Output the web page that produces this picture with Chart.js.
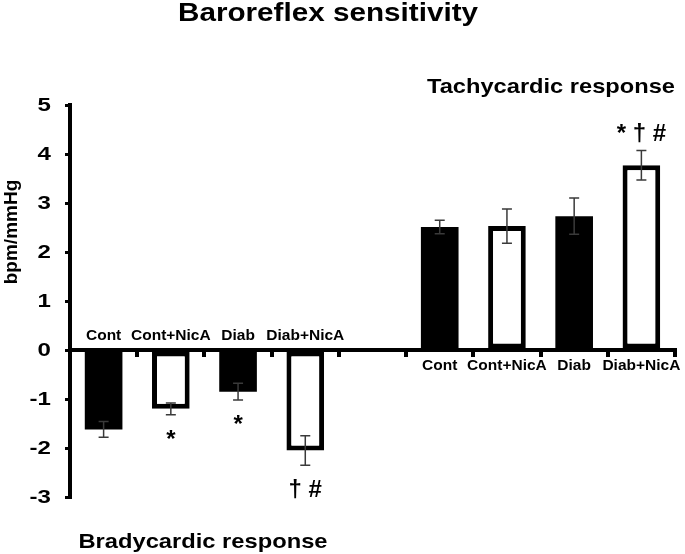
<!DOCTYPE html>
<html>
<head>
<meta charset="utf-8">
<script src="https://cdn.jsdelivr.net/npm/chart.js@4.4.1/dist/chart.umd.min.js"></script>
<style>
  html, body { margin: 0; padding: 0; background: #fff; }
  #wrap { width: 685px; height: 554px; }
</style>
</head>
<body>
<div id="wrap"><canvas id="baroreflex"></canvas></div>
<script>
// Baroreflex sensitivity, bpm/mmHg (mean +/- SEM)
const treatments = ['Cont', 'Cont+NicA', 'Diab', 'Diab+NicA'];
const filled = [true, false, true, false];

const bradyValues = [-1.62, -1.2, -0.85, -2.05];
const bradyErrors = [0.16, 0.12, 0.17, 0.3];
const bradyMarks = ['', '*', '*', '† #'];

const tachyValues = [2.51, 2.53, 2.73, 3.77];
const tachyErrors = [0.14, 0.35, 0.37, 0.3];
const tachyMarks = ['', '', '', '* † #'];

const yTicks = [-3, -2, -1, 0, 1, 2, 3, 4, 5];

// one empty slot between the two groups
const labels = treatments.concat([''], treatments);
const values = bradyValues.concat([null], tachyValues);
const errors = bradyErrors.concat([null], tachyErrors);
const marks = bradyMarks.concat([''], tachyMarks);
const fills = filled.concat([true], filled);

const FONT = "'Liberation Sans', Arial, sans-serif";

function stretchText(ctx, text, cx, cy, font, width, align) {
  ctx.font = font;
  const w = ctx.measureText(text).width;
  const sx = width ? width / w : 1;
  ctx.save();
  ctx.translate(cx, cy);
  ctx.scale(sx, 1);
  ctx.textAlign = align || 'center';
  ctx.fillText(text, 0, 0);
  ctx.restore();
}

const extras = {
  id: 'extras',
  afterDatasetsDraw(chart) {
    const ctx = chart.ctx;
    const x = chart.scales.x;
    const y = chart.scales.y;
    ctx.save();

    // error bars
    ctx.strokeStyle = '#3a3a3a';
    ctx.lineWidth = 1.5;
    values.forEach((v, i) => {
      if (v === null) return;
      const px = x.getPixelForValue(i);
      const lo = y.getPixelForValue(v - errors[i]);
      const hi = y.getPixelForValue(v + errors[i]);
      ctx.beginPath();
      ctx.moveTo(px, lo); ctx.lineTo(px, hi);
      ctx.moveTo(px - 5, lo); ctx.lineTo(px + 5, lo);
      ctx.moveTo(px - 5, hi); ctx.lineTo(px + 5, hi);
      ctx.stroke();
    });

    ctx.fillStyle = '#000';
    ctx.textBaseline = 'alphabetic';

    // y tick labels (wide digits, as in the original figure)
    ctx.textBaseline = 'middle';
    yTicks.forEach(v => {
      ctx.save();
      ctx.font = 'bold 18.5px ' + FONT;
      ctx.translate(51, y.getPixelForValue(v) + 1);
      ctx.scale(1.3, 1);
      ctx.textAlign = 'right';
      ctx.fillText(String(v), 0, 0);
      ctx.restore();
    });
    ctx.textBaseline = 'alphabetic';

    // group labels: above the axis for the negative group, below for the positive one
    values.forEach((v, i) => {
      if (v === null) return;
      const px = x.getPixelForValue(i);
      const zero = y.getPixelForValue(0);
      stretchText(ctx, labels[i], px, v < 0 ? zero - 10 : zero + 20, 'bold 15.5px ' + FONT);
    });

    // significance marks
    values.forEach((v, i) => {
      if (!marks[i]) return;
      const px = x.getPixelForValue(i);
      const end = v < 0 ? y.getPixelForValue(v - errors[i]) : y.getPixelForValue(v + errors[i]);
      stretchText(ctx, marks[i], px, v < 0 ? end + 32 : end - 10, 'bold 24px ' + FONT);
    });

    // titles
    stretchText(ctx, 'Baroreflex sensitivity', 328, 21, 'bold 26px ' + FONT, 300);
    stretchText(ctx, 'Tachycardic response', 551, 93, 'bold 21px ' + FONT, 248);
    stretchText(ctx, 'Bradycardic response', 203, 548, 'bold 21px ' + FONT, 249);

    ctx.translate(12, 232);
    ctx.rotate(-Math.PI / 2);
    ctx.textBaseline = 'middle';
    stretchText(ctx, 'bpm/mmHg', 0, 0, 'bold 19px ' + FONT);

    ctx.restore();
  }
};

new Chart(document.getElementById('baroreflex'), {
  type: 'bar',
  data: {
    labels: labels,
    datasets: [{
      data: values,
      backgroundColor: fills.map(f => f ? '#000' : '#fff'),
      borderColor: '#000',
      borderWidth: fills.map(f => f ? 0 : 5),
      borderSkipped: false,
      categoryPercentage: 1,
      barPercentage: 0.56
    }]
  },
  options: {
    responsive: true,
    maintainAspectRatio: false,
    animation: false,
    layout: { padding: { left: 0, right: 10, top: 105, bottom: 57 } },
    plugins: {
      legend: { display: false },
      tooltip: { enabled: false },
      title: { display: false }
    },
    scales: {
      x: {
        type: 'category',
        position: { y: 0 },
        offset: true,
        ticks: { display: false },
        grid: { offset: true, drawOnChartArea: false, color: '#000', lineWidth: 4, tickLength: 5 },
        border: { display: true, color: '#000', width: 4 }
      },
      y: {
        min: yTicks[0],
        max: yTicks[yTicks.length - 1],
        afterFit(scale) { scale.width = 70; },
        afterBuildTicks(scale) { scale.ticks = yTicks.map(v => ({ value: v })); },
        ticks: { display: false },
        grid: { drawOnChartArea: false, color: '#000', lineWidth: 3, tickLength: 5 },
        border: { display: true, color: '#000', width: 4 }
      }
    }
  },
  plugins: [extras]
});
</script>
</body>
</html>
